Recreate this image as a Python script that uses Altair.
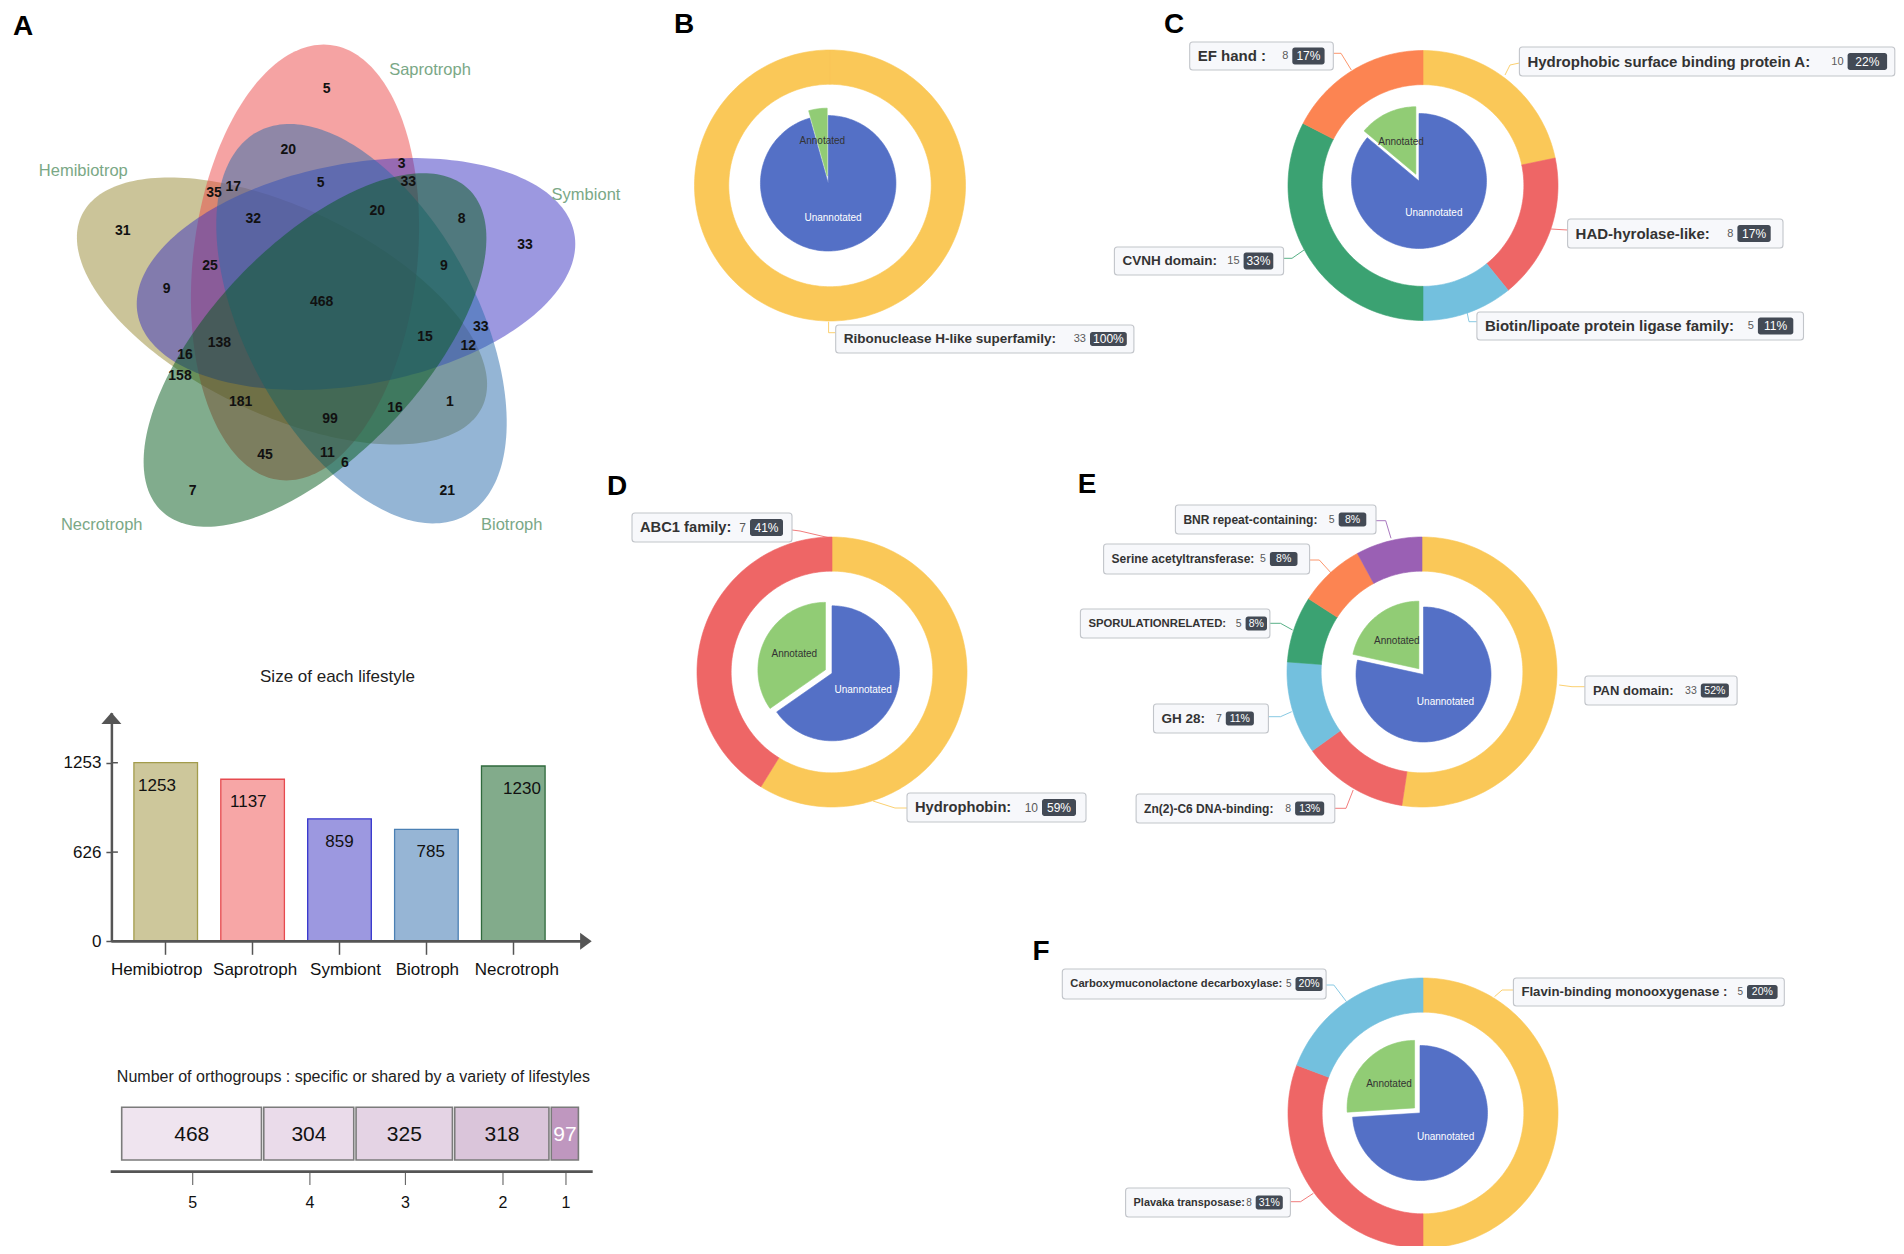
import math
import numpy as np
import pandas as pd
import altair as alt

# ------------------------------------------------------------------ data
lifestyles = ["Hemibiotrop", "Saprotroph", "Symbiont", "Biotroph", "Necrotroph"]
lifestyle_sizes = [1253, 1137, 859, 785, 1230]
size_ticks = [0, 626, 1253]

venn_counts = [5, 20, 3, 33, 35, 17, 5, 20, 32, 8, 31, 33, 25, 9, 9, 468,
               15, 33, 12, 138, 16, 158, 181, 1, 16, 99, 45, 11, 6, 7, 21]

shared_levels = ["5", "4", "3", "2", "1"]
shared_counts = [468, 304, 325, 318, 97]

pie_cats = ["Unannotated", "Annotated"]

B_ring = [33]
B_pie = [717, 33]
B_labels = [("Ribonuclease H-like superfamily:", "33", "100%")]

C_ring = [10, 8, 5, 15, 8]
C_pie = [285, 46]
C_labels = [("Hydrophobic surface binding protein A:", "10", "22%"),
            ("HAD-hyrolase-like:", "8", "17%"),
            ("Biotin/lipoate protein ligase family:", "5", "11%"),
            ("CVNH domain:", "15", "33%"),
            ("EF hand :", "8", "17%")]

D_ring = [10, 7]
D_pie = [32, 17]
D_labels = [("Hydrophobin:", "10", "59%"),
            ("ABC1 family:", "7", "41%")]

E_ring = [33, 8, 7, 5, 5, 5]
E_pie = [229, 63]
E_labels = [("PAN domain:", "33", "52%"),
            ("Zn(2)-C6 DNA-binding:", "8", "13%"),
            ("GH 28:", "7", "11%"),
            ("SPORULATIONRELATED:", "5", "8%"),
            ("Serine acetyltransferase:", "5", "8%"),
            ("BNR repeat-containing:", "5", "8%")]

F_ring = [13, 8, 5]
F_pie = [74, 26]
F_labels = [("Flavin-binding monooxygenase :", "5", "20%"),
            ("Plavaka transposase:", "8", "31%"),
            ("Carboxymuconolactone decarboxylase:", "5", "20%")]

# ------------------------------------------------------------------ styles / layout
W, H, M = 1888, 1238, 8
SANS = "'Liberation Sans', Arial, Helvetica, sans-serif"

venn_fill = ["#978a34", "#eb4848", "#3a31c2", "#2a6cab", "#045a1c"]
# (centre x, centre y, half length, half width, rotation in degrees)
venn_shapes = [(282, 311, 222, 103, 25.6),
               (305, 262.5, 219, 112, -83.4),
               (356, 274, 222, 110.6, -10.4),
               (361.5, 323.7, 218.3, 115.4, 61.6),
               (315, 350, 222.4, 105.6, 133.6)]
venn_pos = [(326.7, 89.3), (288.3, 150), (401.7, 164.3), (408.3, 181.7), (214, 192.7),
            (233.3, 186.7), (320.7, 183.3), (377.3, 210.7), (253.3, 219), (461.7, 219),
            (122.7, 231), (525, 245), (210, 266), (444, 266), (166.7, 289.3),
            (321.7, 301.7), (425, 336.7), (480.7, 326.7), (468.3, 346), (219.3, 342.7),
            (185, 355), (180, 376), (240.7, 401.7), (450, 401.7), (395, 407.7),
            (330, 419.3), (265, 455), (327.3, 452.7), (345, 463.3), (192.7, 491),
            (447.3, 491)]
venn_label_pos = [(83.3, 171), (430, 70), (586, 195), (511.7, 525), (101.7, 525)]
venn_label_color = "#7aa886"

panel_letters = ["A", "B", "C", "D", "E", "F"]
panel_letter_pos = [(23, 27), (684, 25), (1174, 25), (617, 487), (1087, 485), (1041, 952)]

bar_fill = ["#cdc79b", "#f7a6a6", "#9c98e0", "#96b5d5", "#82ab8b"]
bar_stroke = ["#a39c4c", "#e64a4f", "#3535cc", "#4b80b4", "#2f6a3d"]
bar_label_shift = [-9, 2.5, 6, 1, 3.5]

shared_fill = ["#efe4ef", "#eadbea", "#e4d3e4", "#dac5da", "#bf97bf"]
shared_text = ["#111111", "#111111", "#111111", "#111111", "#ffffff"]

ring_palette = ["#fac858", "#ee6666", "#73c0de", "#3ba272", "#fc8452", "#9a60b4"]
pie_palette = ["#5470c6", "#91cc75"]
pie_text = ["#ffffff", "#333333"]
R_OUT, R_IN, R_PIE, PIE_OFF, R_LAB = 1.0, 0.747, 0.5, 0.055, 0.26

donuts = [
    dict(ring=B_ring, pie=B_pie, labels=B_labels, cx=830, cy=185.5, r=135.5, pie_shift=(-1.8, -2.2),
         pie_fs=10, name_fs=13.5, val_fs=11, badge_fs=12, badge_h=7,
         layout=[dict(box=(835.7, 325, 1133.9, 353), badge=(1090, 1126.8),
                      lead=[(828.6, 321.7), (828.6, 332.7), (835.7, 332.7)])]),
    dict(ring=C_ring, pie=C_pie, labels=C_labels, cx=1423, cy=185.5, r=135, pie_shift=(-4, -4.5),
         pie_fs=10, name_fs=15, val_fs=11, badge_fs=12, badge_h=8.5,
         layout=[dict(box=(1519.4, 47, 1894.8, 76), badge=(1847.6, 1887.1),
                      lead=[(1505, 75), (1510, 65), (1519.4, 63)]),
                 dict(box=(1567.6, 219, 1783, 248), badge=(1737.4, 1770.7),
                      lead=[(1551, 229), (1559, 229.5), (1567.6, 230)]),
                 dict(box=(1476.9, 312, 1803.5, 340), badge=(1757.9, 1793.3),
                      lead=[(1466.6, 310), (1469, 321.7), (1476.9, 321.7)]),
                 dict(box=(1114.4, 247, 1283.6, 275), badge=(1243.6, 1273.3),
                      lead=[(1304, 250), (1292, 258.3), (1283.6, 258.3)], fs=13.5),
                 dict(box=(1189.7, 42, 1333.3, 70), badge=(1292.3, 1324.6),
                      lead=[(1351.3, 70), (1341, 53.3), (1333.3, 53.3)])]),
    dict(ring=D_ring, pie=D_pie, labels=D_labels, cx=832, cy=672, r=135, pie_shift=(0, 1.3),
         pie_fs=10, name_fs=14.7, val_fs=12, badge_fs=12, badge_h=8.5,
         layout=[dict(box=(907, 793, 1086, 822), badge=(1042, 1076),
                      lead=[(873, 801), (895, 808), (907, 808)]),
                 dict(box=(632, 513, 792, 542), badge=(750, 783),
                      lead=[(830, 538), (800, 531), (792, 530)])]),
    dict(ring=E_ring, pie=E_pie, labels=E_labels, cx=1422, cy=672, r=135, pie_shift=(1.5, 2.5),
         pie_fs=10, name_fs=12, val_fs=10.5, badge_fs=10.5, badge_h=7,
         layout=[dict(box=(1584.9, 676, 1737.1, 705), badge=(1700.8, 1728.9),
                      lead=[(1559.2, 685), (1572, 686.7), (1584.9, 686.7)], fs=13),
                 dict(box=(1136.1, 794, 1334.8, 823), badge=(1295.1, 1324.2),
                      lead=[(1353.2, 790), (1346, 808.3), (1334.8, 808.3)]),
                 dict(box=(1153.5, 704, 1268.4, 733), badge=(1225.8, 1253.9),
                      lead=[(1291.7, 711.7), (1280.5, 716.7), (1268.4, 716.7)], fs=13.5),
                 dict(box=(1080.4, 609, 1269.9, 638), badge=(1245.6, 1267),
                      lead=[(1292.6, 630), (1280.5, 623.3), (1269.9, 623.3)], fs=11.3),
                 dict(box=(1103.6, 544, 1309.6, 574), badge=(1269.9, 1297.5),
                      lead=[(1331.4, 573.3), (1319.3, 560), (1309.6, 560)]),
                 dict(box=(1175.4, 505, 1376, 534), badge=(1338.7, 1366.3),
                      lead=[(1391, 538.3), (1385.7, 520.7), (1376, 520.7)])]),
    dict(ring=F_ring, pie=F_pie, labels=F_labels, cx=1423, cy=1113, r=135, pie_shift=(-3, 0),
         pie_fs=10, name_fs=11.2, val_fs=10, badge_fs=10.5, badge_h=7,
         layout=[dict(box=(1513.4, 978, 1784.3, 1006), badge=(1747, 1777.6),
                      lead=[(1494.5, 996.7), (1502.1, 990), (1513.4, 990)], fs=13.2),
                 dict(box=(1125.6, 1188, 1290.4, 1217), badge=(1255.7, 1282.8),
                      lead=[(1313.4, 1193.3), (1300.6, 1201.7), (1290.4, 1201.7)], fs=10.9),
                 dict(box=(1062.3, 969, 1326.1, 999), badge=(1295.5, 1322.6),
                      lead=[(1346.5, 1001.7), (1333.8, 985), (1326.1, 985)])]),
]

# ------------------------------------------------------------------ helpers
CX = alt.Scale(domain=[M, M + W], range=[0, W], nice=False, zero=False)
CY = alt.Scale(domain=[M, M + H], range=[0, H], nice=False, zero=False)


def ex(f="x"):
    return alt.X(f"{f}:Q", scale=CX, axis=None)


def ey(f="y"):
    return alt.Y(f"{f}:Q", scale=CY, axis=None)


def ellipse_df(cx, cy, a, b, th_deg, n=220):
    th = math.radians(th_deg)
    t = np.linspace(0, 2 * np.pi, n, endpoint=False)
    x = cx + a * np.cos(t) * math.cos(th) - b * np.sin(t) * math.sin(th)
    y = cy + a * np.cos(t) * math.sin(th) + b * np.sin(t) * math.cos(th)
    return pd.DataFrame({"x": x, "y": y, "i": np.arange(n)})


def text_layer(df, size, color="#111111", weight="normal", align="center"):
    return (alt.Chart(df).mark_text(font=SANS, fontSize=size, fontWeight=weight, color=color,
                                    align=align, baseline="middle")
            .encode(x=ex(), y=ey(), text="t:N"))


layers = []

# ------------------------------------------------------------------ A: Venn
for (vx, vy, a, b, th), col in zip(venn_shapes, venn_fill):
    layers.append(
        alt.Chart(ellipse_df(vx, vy, a, b, th))
        .mark_line(interpolate="linear-closed", fill=col, fillOpacity=0.5,
                   strokeWidth=0, strokeOpacity=0)
        .encode(x=ex(), y=ey(), order="i:Q")
    )

venn_num_df = pd.DataFrame({"t": [str(v) for v in venn_counts],
                            "x": [p[0] for p in venn_pos], "y": [p[1] for p in venn_pos]})
layers.append(text_layer(venn_num_df, 14, "#111111", "bold"))

venn_lab_df = pd.DataFrame({"t": lifestyles, "x": [p[0] for p in venn_label_pos],
                            "y": [p[1] for p in venn_label_pos]})
layers.append(text_layer(venn_lab_df, 16.5, venn_label_color))

letters_df = pd.DataFrame({"t": panel_letters, "x": [p[0] for p in panel_letter_pos],
                           "y": [p[1] for p in panel_letter_pos]})
layers.append(text_layer(letters_df, 28, "#000000", "bold"))

# ------------------------------------------------------------------ A: bar chart
AXIS_X = 103.4        # canvas x of the y axis
AXIS_Y = 933.3        # canvas y of the x axis
XB = alt.Scale(domain=lifestyles, range=[AXIS_X, 559.6], paddingInner=0.268, paddingOuter=0.259)
YB = alt.Scale(domain=[0, 1604], range=[AXIS_Y, 704.7], nice=False, zero=True)
bar_df = pd.DataFrame({"lifestyle": lifestyles, "size": lifestyle_sizes,
                       "fill": bar_fill, "stroke": bar_stroke})

label_offset = {
    "condition": [{"test": f"datum.value === '{n}'", "value": s}
                  for n, s in zip(lifestyles, bar_label_shift)],
    "value": 0,
}

layers.append(
    alt.Chart(bar_df).mark_bar(strokeWidth=1.3).encode(
        x=alt.X("lifestyle:N", scale=XB, sort=lifestyles,
                axis=alt.Axis(orient="bottom", offset=AXIS_Y - H, domain=False, tickSize=13,
                              tickColor="#555555", tickWidth=1.5, labelFont=SANS, labelFontSize=17,
                              labelColor="#111111", labelPadding=7, labelAngle=0,
                              labelOffset=label_offset, title=None)),
        y=alt.Y("size:Q", scale=YB,
                axis=alt.Axis(orient="left", offset=-AXIS_X, values=size_ticks, format="d",
                              domainColor="#555555", domainWidth=2.5, tickSize=5.5,
                              tickColor="#555555", tickWidth=1.5, labelFont=SANS, labelFontSize=17,
                              labelColor="#111111", labelPadding=5, grid=False, title=None)),
        fill=alt.Fill("fill:N", scale=None),
        stroke=alt.Stroke("stroke:N", scale=None),
    )
)
layers.append(
    alt.Chart(bar_df).mark_text(font=SANS, fontSize=17, color="#111111", dy=23, baseline="middle")
    .encode(x=alt.X("lifestyle:N", scale=XB, sort=lifestyles, axis=None),
            y=alt.Y("size:Q", scale=YB, axis=None), text="size:Q")
)
layers.append(
    alt.Chart(pd.DataFrame({"v": size_ticks[1:]})).mark_rule(color="#555555", strokeWidth=1.5)
    .encode(y=alt.Y("v:Q", scale=YB, axis=None), x=alt.value(AXIS_X), x2=alt.value(AXIS_X + 6.5))
)
layers.append(
    alt.Chart(pd.DataFrame({"x": [AXIS_X + M], "x2": [582], "y": [AXIS_Y + M]}))
    .mark_rule(color="#555555", strokeWidth=2.7)
    .encode(x=ex(), x2="x2:Q", y=ey())
)
layers.append(
    alt.Chart(pd.DataFrame({"x": [AXIS_X + M], "y": [718.3]}))
    .mark_point(shape="M0,-0.58L1,0.58L-1,0.58Z", size=400, filled=True, color="#555555", opacity=1)
    .encode(x=ex(), y=ey())
)
layers.append(
    alt.Chart(pd.DataFrame({"x": [585.9], "y": [AXIS_Y + M]}))
    .mark_point(shape="M0.58,0L-0.58,-0.85L-0.58,0.85Z", size=400, filled=True, color="#555555", opacity=1)
    .encode(x=ex(), y=ey())
)
layers.append(text_layer(pd.DataFrame({"t": ["Size of each lifestyle"], "x": [337.5], "y": [677]}),
                         17, "#222222"))

# ------------------------------------------------------------------ A: shared orthogroups bar
XS = alt.Scale(domain=[0, sum(shared_counts)], range=[113.7, 572.7], nice=False, zero=False)
stk_df = pd.DataFrame({"lvl": shared_levels, "n": shared_counts, "idx": list(range(len(shared_counts))),
                       "fill": shared_fill, "tcol": shared_text})
stk = (alt.Chart(stk_df)
       .transform_window(cum="sum(n)", sort=[alt.SortField("idx")])
       .transform_calculate(x0="datum.cum - datum.n", mid="datum.cum - datum.n / 2"))
layers.append(stk.mark_rect(stroke="#7b7b7b", strokeWidth=1.6, x2Offset=-2.3).encode(
    x=alt.X("x0:Q", scale=XS, axis=None), x2="cum:Q",
    y=alt.value(1099.3), y2=alt.value(1152), fill=alt.Fill("fill:N", scale=None)))
layers.append(stk.mark_text(font=SANS, fontSize=21, baseline="middle", dx=-1).encode(
    x=alt.X("mid:Q", scale=XS, axis=None), y=alt.value(1127), text="n:Q",
    color=alt.Color("tcol:N", scale=None)))
layers.append(stk.mark_rule(color="#555555", strokeWidth=1).encode(
    x=alt.X("mid:Q", scale=XS, axis=None), y=alt.value(1164), y2=alt.value(1177)))
layers.append(stk.mark_text(font=SANS, fontSize=16, baseline="middle", color="#111111").encode(
    x=alt.X("mid:Q", scale=XS, axis=None), y=alt.value(1194.7), text="lvl:N"))
layers.append(
    alt.Chart(pd.DataFrame({"x": [110.7], "x2": [592.7], "y": [1171.7]}))
    .mark_rule(color="#555555", strokeWidth=2.7)
    .encode(x=ex(), x2="x2:Q", y=ey())
)
layers.append(text_layer(pd.DataFrame({"t": ["Number of orthogroups : specific or shared by a variety of lifestyles"],
                                       "x": [353.4], "y": [1077]}), 16, "#222222"))

# ------------------------------------------------------------------ B-F: donuts


def donut_layers(d):
    r = d["r"]
    xs = alt.Scale(domain=[-1, 1], range=[d["cx"] - r - M, d["cx"] + r - M], nice=False, zero=False)
    ys = alt.Scale(domain=[-1, 1], range=[d["cy"] - r - M, d["cy"] + r - M], nice=False, zero=False)
    out = []
    rows = []
    vals = d["ring"]
    tot = float(sum(vals))
    cum = 0.0
    for k, v in enumerate(vals):
        a0 = 2 * math.pi * cum / tot
        a1 = 2 * math.pi * (cum + v) / tot
        cum += v
        n = max(8, int(round(240 * v / tot))) + 1
        ang = np.linspace(a0, a1, n)
        pts = [(R_OUT * math.sin(a), -R_OUT * math.cos(a)) for a in ang] + \
              [(R_IN * math.sin(a), -R_IN * math.cos(a)) for a in ang[::-1]]
        for j, (ux, uy) in enumerate(pts):
            rows.append(dict(s=k, i=j, ux=ux, uy=uy, col=ring_palette[k]))
    out.append(alt.Chart(pd.DataFrame(rows)).mark_line(interpolate="linear-closed", strokeWidth=0.6)
               .encode(x=alt.X("ux:Q", scale=xs, axis=None), y=alt.Y("uy:Q", scale=ys, axis=None),
                       detail="s:N", order="i:Q",
                       fill=alt.Fill("col:N", scale=None), stroke=alt.Stroke("col:N", scale=None)))
    prow, lrow = [], []
    pv = d["pie"]
    ptot = float(sum(pv))
    sx, sy = d["pie_shift"][0] / r, d["pie_shift"][1] / r
    cum = 0.0
    for k, v in enumerate(pv):
        a0 = 2 * math.pi * cum / ptot
        a1 = 2 * math.pi * (cum + v) / ptot
        cum += v
        mid = (a0 + a1) / 2
        off = PIE_OFF if k == 1 else 0.0
        ox, oy = sx + off * math.sin(mid), sy - off * math.cos(mid)
        n = max(8, int(round(240 * v / ptot))) + 1
        ang = np.linspace(a0, a1, n)
        pts = [(ox, oy)] + [(ox + R_PIE * math.sin(a), oy - R_PIE * math.cos(a)) for a in ang]
        for j, (ux, uy) in enumerate(pts):
            prow.append(dict(s=k, i=j, ux=ux, uy=uy, col=pie_palette[k]))
        lrow.append(dict(ux=ox + R_LAB * math.sin(mid), uy=oy - R_LAB * math.cos(mid),
                         t=pie_cats[k], col=pie_text[k]))
    out.append(alt.Chart(pd.DataFrame(prow)).mark_line(interpolate="linear-closed", strokeWidth=0.6)
               .encode(x=alt.X("ux:Q", scale=xs, axis=None), y=alt.Y("uy:Q", scale=ys, axis=None),
                       detail="s:N", order="i:Q",
                       fill=alt.Fill("col:N", scale=None), stroke=alt.Stroke("col:N", scale=None)))
    out.append(alt.Chart(pd.DataFrame(lrow)).mark_text(font=SANS, fontSize=d["pie_fs"], baseline="middle")
               .encode(x=alt.X("ux:Q", scale=xs, axis=None), y=alt.Y("uy:Q", scale=ys, axis=None),
                       text="t:N", color=alt.Color("col:N", scale=None)))
    return out


for d in donuts:
    layers.extend(donut_layers(d))

# annotation boxes of the donut slices
boxes, badges, names, valtx, pcttx, leads = [], [], [], [], [], []
lid = 0
for d in donuts:
    for k, (lab, lay) in enumerate(zip(d["labels"], d["layout"])):
        x0, y0, x1, y1 = lay["box"]
        bx0, bx1 = lay["badge"]
        ym = (y0 + y1) / 2.0
        bh = d["badge_h"]
        boxes.append(dict(x=x0, y=y0, x2=x1, y2=y1))
        badges.append(dict(x=bx0, y=ym - bh, x2=bx1, y2=ym + bh))
        names.append(dict(x=x0 + 8, y=ym, t=lab[0], fs=lay.get("fs", d["name_fs"])))
        valtx.append(dict(x=bx0 - 4, y=ym, t=lab[1], fs=d["val_fs"]))
        pcttx.append(dict(x=(bx0 + bx1) / 2.0, y=ym, t=lab[2], fs=d["badge_fs"]))
        for i, (px, py) in enumerate(lay["lead"]):
            leads.append(dict(id=lid, i=i, x=px, y=py, col=ring_palette[k]))
        lid += 1

layers.append(alt.Chart(pd.DataFrame(leads)).mark_line(strokeWidth=1, opacity=0.85)
              .encode(x=ex(), y=ey(), detail="id:N", order="i:Q", color=alt.Color("col:N", scale=None)))
layers.append(alt.Chart(pd.DataFrame(boxes)).mark_rect(cornerRadius=3, fill="#f7f8fb", stroke="#c2c5ca",
                                                       strokeWidth=1.1)
              .encode(x=ex(), x2="x2:Q", y=ey(), y2="y2:Q"))
layers.append(alt.Chart(pd.DataFrame(badges)).mark_rect(cornerRadius=2.5, fill="#434a55")
              .encode(x=ex(), x2="x2:Q", y=ey(), y2="y2:Q"))
layers.append(alt.Chart(pd.DataFrame(names)).mark_text(font=SANS, fontWeight="bold", color="#333333",
                                                       align="left", baseline="middle")
              .encode(x=ex(), y=ey(), text="t:N", size=alt.Size("fs:Q", scale=None)))
layers.append(alt.Chart(pd.DataFrame(valtx)).mark_text(font=SANS, color="#5a5a5a",
                                                       align="right", baseline="middle")
              .encode(x=ex(), y=ey(), text="t:N", size=alt.Size("fs:Q", scale=None)))
layers.append(alt.Chart(pd.DataFrame(pcttx)).mark_text(font=SANS, color="#ffffff",
                                                       align="center", baseline="middle")
              .encode(x=ex(), y=ey(), text="t:N", size=alt.Size("fs:Q", scale=None)))

chart = (
    alt.layer(*layers)
    .resolve_scale(x="independent", y="independent")
    .properties(width=W, height=H, padding=0, autosize=alt.AutoSizeParams(type="none"))
    .configure_view(stroke=None)
)

chart.save("out.html", embed_options={"renderer": "svg", "actions": False})
